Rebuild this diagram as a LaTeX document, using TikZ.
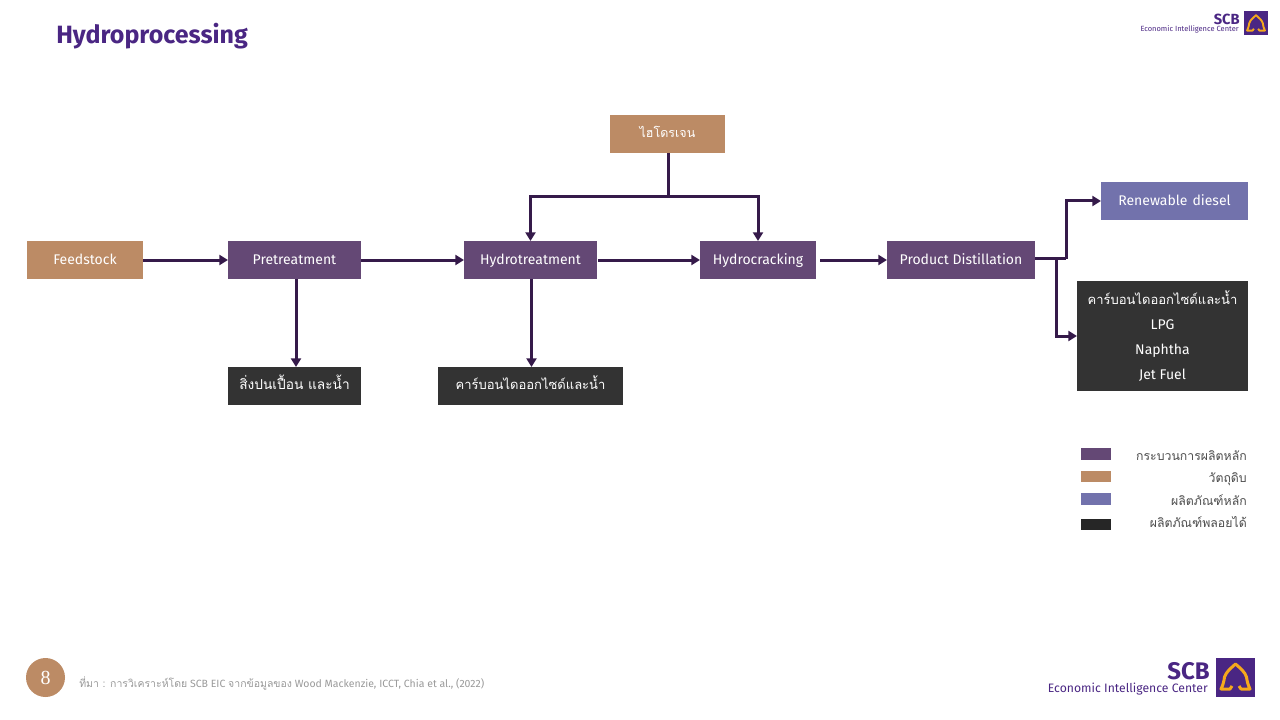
\documentclass[tikz,border=0pt]{standalone}
\usepackage{fontspec}
\setmainfont{Fira Sans}
\newfontfamily\thaifont[Script=Thai]{Loma}
\newfontfamily\numfont{Liberation Serif}
\usetikzlibrary{positioning,arrows.meta}
\newlength\px
\setlength\px{0.75pt}
\definecolor{scbpurple}{HTML}{4A2683}
\definecolor{procpurple}{HTML}{644875}
\definecolor{rawbrown}{HTML}{BC8B65}
\definecolor{mainblue}{HTML}{7272AC}
\definecolor{sidedark}{HTML}{333333}
\definecolor{linedark}{HTML}{351A4A}
\definecolor{bellgold}{HTML}{F5A81C}

\begin{document}
\begin{tikzpicture}[
    x=0.75pt, y=-0.75pt,
    oneline/.style={text height=12\px, text depth=3\px},
    thailine/.style={text height=10\px, text depth=3\px},
    boxnode/.style={rectangle, text=white, minimum height=38\px, inner sep=0pt, outer sep=0pt, font=\fontsize{14\px}{17\px}\selectfont},
    procnode/.style={boxnode, oneline, fill=procpurple},
    rawnode/.style={boxnode, oneline, fill=rawbrown},
    mainnode/.style={boxnode, oneline, fill=mainblue},
    sidenode/.style={boxnode, fill=sidedark},
    flow/.style={draw=linedark, line width=3\px},
    flowarrow/.style={flow, -{Triangle[length=6.5pt,width=7.5pt]}},
    swatch/.style={rectangle, minimum width=30\px, inner sep=0pt, outer sep=0pt},
    legendtext/.style={anchor=east, thailine, inner sep=0pt, text=black!70, font=\fontsize{12.3\px}{15\px}\thaifont},
    pics/scbmark/.style={code={
        \fill[scbpurple] (0,0) rectangle (39,39);
        \draw[bellgold, line join=round] (23,28) -- (25,31) -- (34,31) .. controls (32,27) and (31,23) .. (30.5,19)
            .. controls (29,14) and (24,10) .. (19.5,6) .. controls (15,10) and (10,14) .. (8.5,19)
            .. controls (8,23) and (7,27) .. (5,31) -- (14,31) -- (16,28);
    }},
    ]
    \useasboundingbox (0,0) rectangle (1280,720);

    %Nodes
    \node[rawnode, minimum width=116\px]   (feedstock)  at (85,260) {Feedstock};
    \node[procnode, minimum width=133\px]  (pretreat)   [right=85\px of feedstock] {Pretreatment};
    \node[procnode, minimum width=133\px]  (hydrotreat) [right=103\px of pretreat] {Hydrotreatment};
    \node[procnode, minimum width=116\px]  (hydrocrack) [right=103\px of hydrotreat] {Hydrocracking};
    \node[procnode, minimum width=148\px]  (distill)    [right=71\px of hydrocrack] {Product Distillation};
    \node[rawnode, thailine, minimum width=115\px, font=\fontsize{12.5\px}{15\px}\thaifont] (hydrogen) at (667.5,134) {ไฮโดรเจน};
    \node[sidenode, thailine, minimum width=133\px, font=\fontsize{13.7\px}{17\px}\thaifont] (contam) [below=88\px of pretreat] {สิ่งปนเปื้อน และน้ำ};
    \node[sidenode, thailine, minimum width=185\px, font=\fontsize{13\px}{16\px}\thaifont] (carbon) [below=88\px of hydrotreat] {คาร์บอนไดออกไซด์และน้ำ};
    \node[mainnode, minimum width=147\px]  (renewable)  at (1174.5,201) {Renewable\hspace{1pt} diesel};
    \node[sidenode, minimum width=171\px, minimum height=110\px, align=center] (byprod) at (1162.5,336)
        {{\fontsize{13\px}{16\px}\thaifont คาร์บอนไดออกไซด์และน้ำ}\\[8.2\px] LPG\\[8.2\px] Naphtha\\[8.2\px] Jet Fuel};

    \coordinate (hsplit) at (668,197);
    \coordinate (dsplit) at (1056,258.5);
    \coordinate (rsplit) at (1066,258.5);

    %Lines
    \draw[flowarrow] (feedstock.east) -- (pretreat.west);
    \draw[flowarrow] (pretreat.east) -- (hydrotreat.west);
    \draw[flowarrow] ([xshift=1\px]hydrotreat.east) -- (hydrocrack.west);
    \draw[flowarrow] ([xshift=4\px]hydrocrack.east) -- (distill.west);
    \draw[flowarrow] ([xshift=1.5\px]pretreat.south) -- ([xshift=1.5\px]contam.north);
    \draw[flowarrow] ([xshift=1\px]hydrotreat.south) -- ([xshift=1\px]carbon.north);
    \draw[flow] ([xshift=0.5\px]hydrogen.south) -- (hsplit);
    \draw[flowarrow] (hsplit) -| (hydrotreat.north);
    \draw[flowarrow] (hsplit) -| (hydrocrack.north);
    \draw[flow] ([yshift=1.5\px]distill.east) -- (rsplit);
    \draw[flowarrow] (rsplit) |- (renewable.west);
    \draw[flowarrow] (dsplit) |- (byprod.west);

    %Legend
    \node[swatch, fill=procpurple, minimum height=12\px] (keyproc) at (1096,454) {};
    \node[swatch, fill=rawbrown, minimum height=11\px]   (keyraw)  at (1096,476.5) {};
    \node[swatch, fill=mainblue, minimum height=12\px]   (keymain) at (1096,499) {};
    \node[swatch, fill=black!85, minimum height=11\px]   (keyside) at (1096,524.5) {};
    \node[legendtext] (keyproctext) at (1247,457) {กระบวนการผลิตหลัก};
    \node[legendtext] (keyrawtext)  at (1247,479) {วัตถุดิบ};
    \node[legendtext] (keymaintext) at (1247,502) {ผลิตภัณฑ์หลัก};
    \node[legendtext] (keysidetext) at (1247,524) {ผลิตภัณฑ์พลอยได้};

    %Title and footer
    \node[anchor=west, inner sep=0pt, text=scbpurple, font=\fontsize{25\px}{30\px}\bfseries\selectfont] (title) at (56,36) {Hydroprocessing};
    \node[circle, fill=rawbrown, text=white, minimum size=39\px, inner sep=0pt, font=\fontsize{20\px}{22\px}\numfont] (pagenum) at (45.5,677.5) {8};
    \node[anchor=west, inner sep=0pt, text=black!40, font=\fontsize{10.5\px}{13\px}\selectfont] (source) at (79,683)
        {{\thaifont ที่มา : การวิเคราะห์โดย} SCB EIC {\thaifont จากข้อมูลของ} Wood Mackenzie, ICCT, Chia et al., (2022)};

    %Logos
    \pic[scale=24/39, line width=1.9\px] at (1244,11.5) {scbmark};
    \node[anchor=east, inner sep=0pt, text=scbpurple, font=\fontsize{14.7\px}{16\px}\bfseries\selectfont] (scbtop) at (1240,19) {SCB};
    \node[anchor=east, inner sep=0pt, text=scbpurple, font=\fontsize{7.5\px}{9\px}\selectfont] (eictop) at (1239,29.5) {Economic Intelligence Center};
    \pic[scale=1, line width=3\px] at (1216,658) {scbmark};
    \node[anchor=east, inner sep=0pt, text=scbpurple, font=\fontsize{24\px}{26\px}\bfseries\selectfont] (scbbottom) at (1210,671) {SCB};
    \node[anchor=east, inner sep=0pt, text=scbpurple, font=\fontsize{12.2\px}{14\px}\selectfont] (eicbottom) at (1208,689.5) {Economic Intelligence Center};

    \end{tikzpicture}
\end{document}
